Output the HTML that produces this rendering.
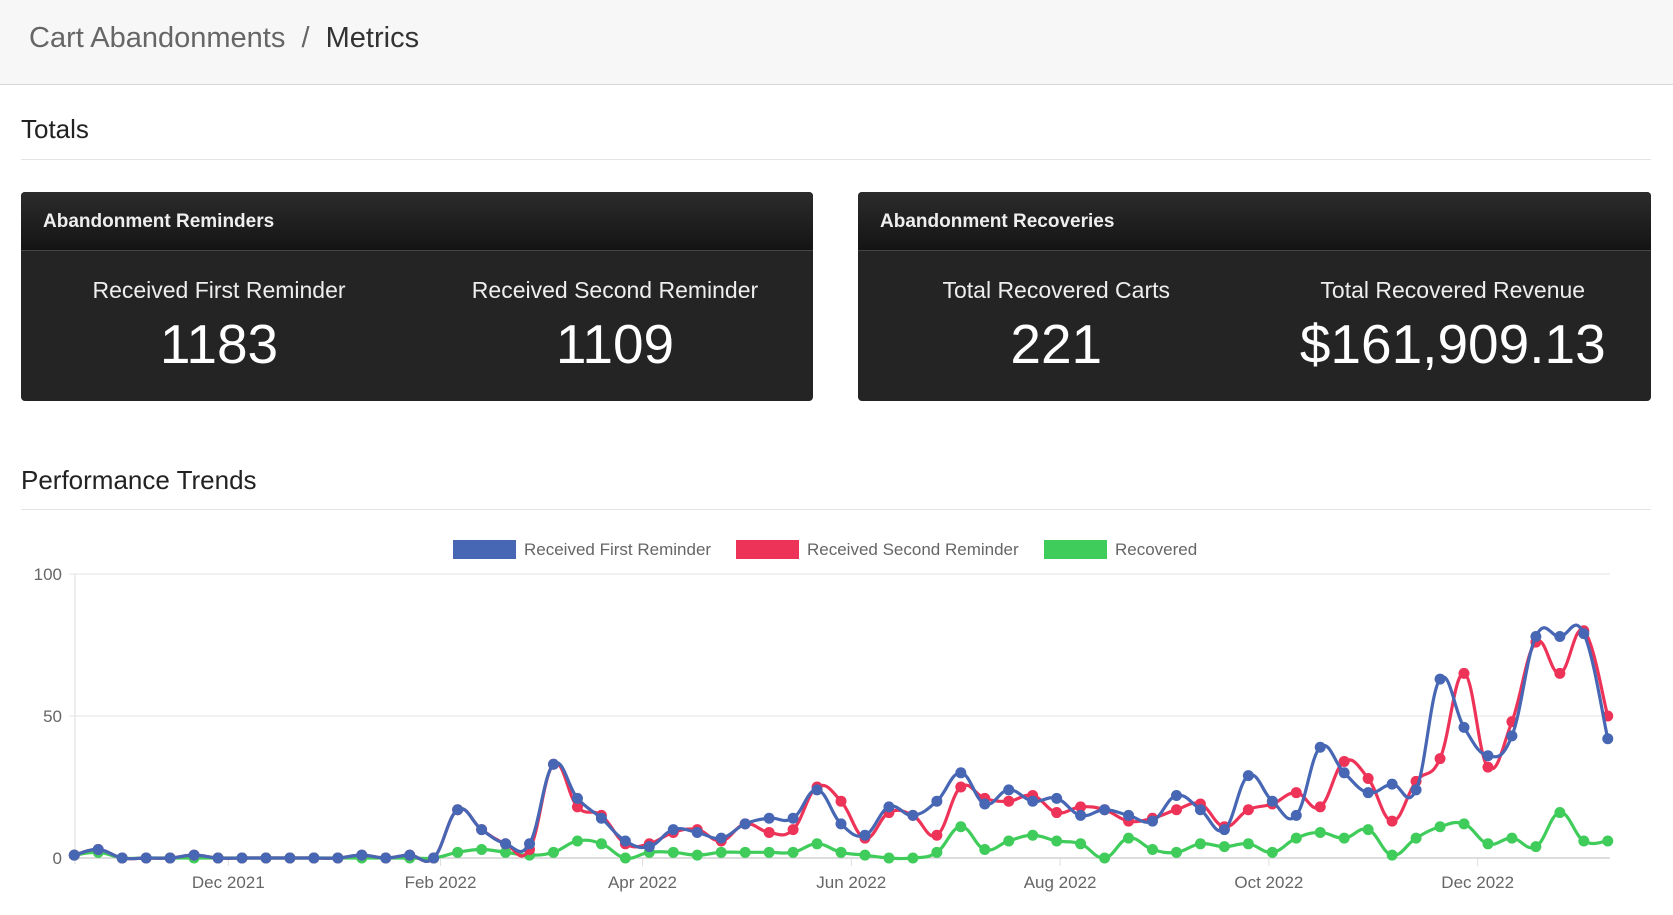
<!DOCTYPE html>
<html><head><meta charset="utf-8">
<style>
*{box-sizing:border-box;margin:0;padding:0}
body{width:1673px;height:915px;background:#fff;font-family:"Liberation Sans",Arial,sans-serif;color:#222;position:relative;overflow:hidden}
.hdr{position:absolute;left:0;top:0;width:1673px;height:85px;background:#f7f7f7;border-bottom:1px solid #d8d8d8}
.crumb{position:absolute;left:29px;top:22px;font-size:29px;color:#666}
.crumb b{font-weight:normal;color:#333}
.h2{position:absolute;left:21px;font-size:26px;color:#222}
.hr{position:absolute;left:21px;width:1630px;height:1px;background:#e3e3e3}
.panel{position:absolute;top:192px;width:792px;height:209px;border-radius:4px;background:#242424;overflow:hidden}
.ph{height:59px;background:linear-gradient(#2c2c2c,#141414);border-bottom:1px solid #444;color:#eee;font-weight:bold;font-size:19px;padding:19px 22px}
.col{position:absolute;top:59px;width:50%;text-align:center;color:#fff}
.lbl{font-size:23px;margin-top:26px;color:#eee}
.num{font-size:55px;margin-top:8px}
</style></head><body>
<div class="hdr">
<div class="crumb"><span>Cart Abandonments</span> &nbsp;/&nbsp; <b>Metrics</b></div>
</div>
<div class="h2" style="top:114px">Totals</div>
<div class="hr" style="top:159px"></div>
<div class="panel" style="left:21px">
<div class="ph">Abandonment Reminders</div>
<div class="col" style="left:0"><div class="lbl">Received First Reminder</div><div class="num">1183</div></div>
<div class="col" style="left:50%"><div class="lbl">Received Second Reminder</div><div class="num">1109</div></div>
</div>
<div class="panel" style="left:858px;width:793px">
<div class="ph">Abandonment Recoveries</div>
<div class="col" style="left:0"><div class="lbl">Total Recovered Carts</div><div class="num">221</div></div>
<div class="col" style="left:50%"><div class="lbl">Total Recovered Revenue</div><div class="num">$161,909.13</div></div>
</div>
<div class="h2" style="top:465px">Performance Trends</div>
<div class="hr" style="top:509px"></div>
<svg id="chart" width="1673" height="915" style="position:absolute;left:0;top:0" font-family="Liberation Sans, Arial, sans-serif"></svg>
<script>
const startDate = [2021, 9, 17];
const tickLabels = ["Dec 2021","Feb 2022","Apr 2022","Jun 2022","Aug 2022","Oct 2022","Dec 2022"];
const tickDates = [[2021,11,1],[2022,1,1],[2022,3,1],[2022,5,1],[2022,7,1],[2022,9,1],[2022,11,1]];
const yTicks = [0,50,100];
const seriesNames = ["Received First Reminder","Received Second Reminder","Recovered"];
const firstReminder = [1,3,0,0,0,1,0,0,0,0,0,0,1,0,1,0,17,10,5,5,33,21,14,6,4,10,9,7,12,14,14,24,12,8,18,15,20,30,19,24,20,21,15,17,15,13,22,17,10,29,20,15,39,30,23,26,24,63,46,36,43,78,78,79,42];
const secondReminder = [1,3,0,0,0,1,0,0,0,0,0,0,1,0,1,0,17,10,5,3,33,18,15,5,5,9,10,6,12,9,10,25,20,7,16,15,8,25,21,20,22,16,18,17,13,14,17,19,11,17,19,23,18,34,28,13,27,35,65,32,48,76,65,80,50];
const recovered = [1,2,0,0,0,0,0,0,0,0,0,0,0,0,0,0,2,3,2,1,2,6,5,0,2,2,1,2,2,2,2,5,2,1,0,0,2,11,3,6,8,6,5,0,7,3,2,5,4,5,2,7,9,7,10,1,7,11,12,5,7,4,16,6,6];
const colors = ["#4767b4","#ee3358","#3fcc5a"];

const svg = document.getElementById('chart');
const NS = 'http://www.w3.org/2000/svg';
const X0 = 228.3, PPD = 3.423, Y0 = 858, Y100 = 574;
const ref = Date.UTC(2021,11,1);
function xOfDate(d){ return X0 + (Date.UTC(d[0],d[1],d[2]) - ref)/86400000*PPD; }
function xOfIdx(i){ const s = Date.UTC(startDate[0],startDate[1],startDate[2]) + i*7*86400000; return X0 + (s-ref)/86400000*PPD; }
function yOf(v){ return Y0 - v/100*(Y0-Y100); }
function mk(tag, attrs){ const e = document.createElementNS(NS, tag); for (const k in attrs) e.setAttribute(k, attrs[k]); svg.appendChild(e); return e; }

const XL = 75, XR = 1610;
yTicks.forEach(t => {
  const l = mk('line',{x1:XL-6,x2:XR,y1:yOf(t),y2:yOf(t),stroke: t===0?'#bbb':'#e3e3e3','stroke-width':1});
  
  
  const tx = mk('text',{x:XL-13,y:yOf(t)+6,'text-anchor':'end','font-size':17,fill:'#666'});
  tx.textContent = t;
  
  
});
const ax = mk('line',{x1:XL,x2:XL,y1:Y100,y2:Y0+6,stroke:'#ddd','stroke-width':1});


tickLabels.forEach((lab,i) => {
  const x = xOfDate(tickDates[i]);
  const tk = mk('line',{x1:x,x2:x,y1:Y0,y2:Y0+8,stroke:'#ddd','stroke-width':1});
  
  
  const tx = mk('text',{x:x,y:888,'text-anchor':'middle','font-size':17,fill:'#666'});
  tx.textContent = lab;
  
  
});

// legend
const legX = [453, 736, 1044], legW = 63;
seriesNames.forEach((n,i) => {
  const r = mk('rect',{x:legX[i],y:540,width:legW,height:19,fill:colors[i]});
  
  
  const t = mk('text',{x:legX[i]+legW+8,y:555,'font-size':17,fill:'#666'});
  t.textContent = n;
  
  
});

function smoothPath(pts){
  const k = 0.2;
  let d = `M${pts[0][0]},${pts[0][1]}`;
  for (let i=0;i<pts.length-1;i++){
    const p0 = pts[i-1]||pts[i], p1 = pts[i], p2 = pts[i+1], p3 = pts[i+2]||p2;
    const c1 = [p1[0]+(p2[0]-p0[0])*k, p1[1]+(p2[1]-p0[1])*k];
    const c2 = [p2[0]-(p3[0]-p1[0])*k, p2[1]-(p3[1]-p1[1])*k];
    d += ` C${c1[0]},${c1[1]} ${c2[0]},${c2[1]} ${p2[0]},${p2[1]}`;
  }
  return d;
}
const allSeries = [firstReminder, secondReminder, recovered];
const seriesKeys = ['first-reminder','second-reminder','recovered'];
[2,1,0].forEach(si => {
  const vals = allSeries[si];
  const pts = vals.map((v,i) => [xOfIdx(i), yOf(v)]);
  const p = mk('path',{d:smoothPath(pts),fill:'none',stroke:colors[si],'stroke-width':3.2});
  
  
  pts.forEach(pt => {
    const c = mk('circle',{cx:pt[0],cy:pt[1],r:5.5,fill:colors[si]});
    
    
  });
});
</script>
</body></html>
